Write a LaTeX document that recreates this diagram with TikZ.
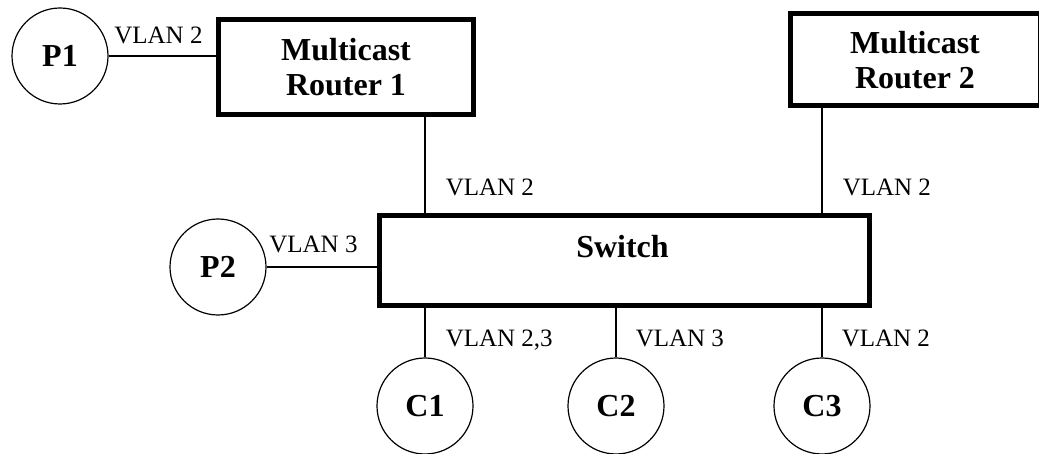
\documentclass[tikz,border=0pt]{standalone}
\usepackage{fontspec}
\setmainfont{Liberation Serif}
\usetikzlibrary{calc,shapes}

\begin{document}
\begin{tikzpicture}[x=1pt,y=-1pt,
  dev/.style={draw,rectangle,line width=5pt,align=center,font=\fontsize{32}{35}\selectfont\bfseries},
  host/.style={draw,circle,line width=1.2pt,minimum size=96pt,inner sep=0pt,font=\fontsize{32}{35}\selectfont\bfseries},
  wire/.style={line width=1.5pt},
  vlan/.style={inner sep=0pt,anchor=base west,font=\fontsize{25}{28}\selectfont}]
\clip (0,0) rectangle (1039,454);
\node[dev,minimum width=255pt,minimum height=95pt] (r1) at (346,67.5) {Multicast\\Router 1};
\node[dev,minimum width=250pt,minimum height=92pt] (r2) at (915,60) {Multicast\\Router 2};
\node[dev,minimum width=490pt,minimum height=90pt] (switch) at (624.5,260.5) {};
\node[font=\fontsize{32}{35}\selectfont\bfseries] (swlabel) at ($(switch.center)+(-2,-14)$) {Switch};
\node[host] (p1) at (60,56) {P1};
\node[host] (p2) at (218,267) {P2};
\node[host] (c1) at (425,406) {C1};
\node[host] (c2) at (616,406) {C2};
\node[host] (c3) at (822,406) {C3};
\draw[wire] (p1) -- node[vlan,pos=0,xshift=5pt,yshift=12pt] {VLAN 2} (p1 -| r1.west);
\draw[wire] (p2) -- node[vlan,pos=0,xshift=2pt,yshift=14pt] {VLAN 3} (p2 -| switch.west);
\draw[wire] (c1 |- r1.south) -- node[vlan,pos=.82,xshift=20pt] {VLAN 2} (c1 |- switch.north);
\draw[wire] (c3 |- r2.south) -- node[vlan,pos=.83,xshift=20pt] {VLAN 2} (c3 |- switch.north);
\draw[wire] (c1 |- switch.south) -- node[vlan,pos=.78,xshift=20pt] {VLAN 2,3} (c1);
\draw[wire] (c2 |- switch.south) -- node[vlan,pos=.78,xshift=19pt] {VLAN 3} (c2);
\draw[wire] (c3 |- switch.south) -- node[vlan,pos=.78,xshift=19pt] {VLAN 2} (c3);
\end{tikzpicture}
\end{document}
